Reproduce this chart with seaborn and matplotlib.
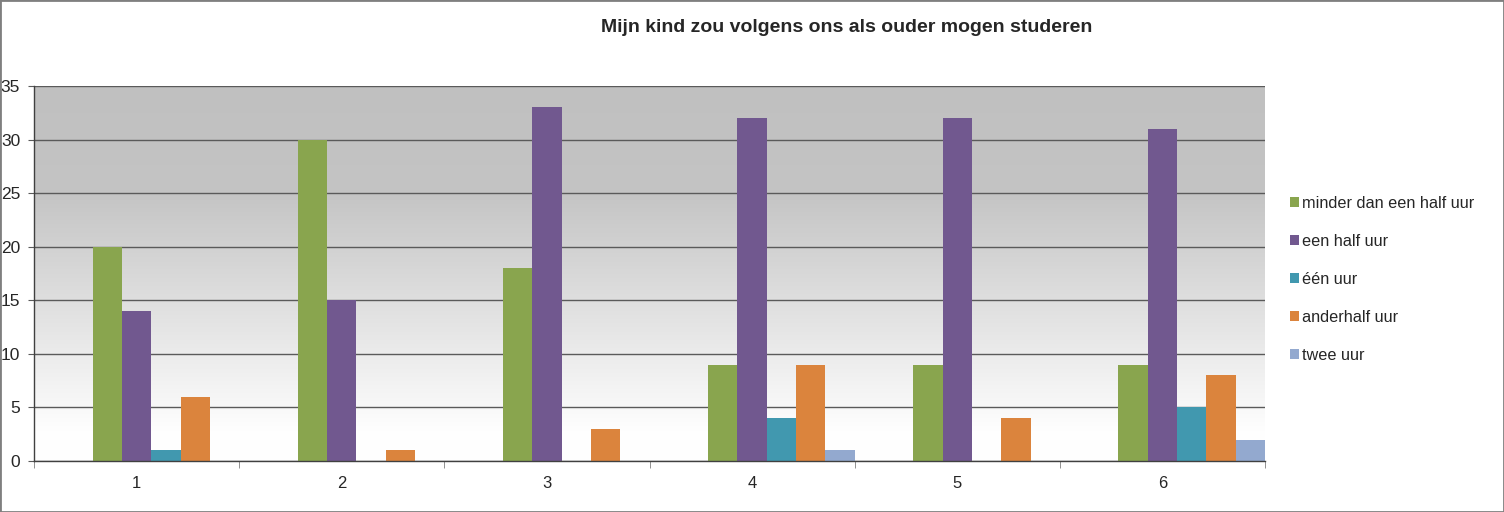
import numpy as np
import pandas as pd
import matplotlib
matplotlib.use("Agg")
import matplotlib.pyplot as plt
import seaborn as sns
from matplotlib.patches import Rectangle, Patch

categories = ["1", "2", "3", "4", "5", "6"]
series = ["minder dan een half uur", "een half uur", "één uur", "anderhalf uur", "twee uur"]
minder_dan_half = [20, 30, 18, 9, 9, 9]
een_half = [14, 15, 33, 32, 32, 31]
een_uur = [1, 0, 0, 4, 0, 5]
anderhalf = [6, 1, 3, 9, 4, 8]
twee_uur = [0, 0, 0, 1, 0, 2]
# two empty series in the original chart take the first slots of each group
empty_series = ["_leeg1", "_leeg2"]

colors = ["#89A54E", "#71588F", "#4198AF", "#DB843D", "#93A9CF"]

rows = []
for name, vals in zip(series, [minder_dan_half, een_half, een_uur, anderhalf, twee_uur]):
    for c, v in zip(categories, vals):
        rows.append({"cat": c, "serie": name, "aantal": v})
for name in empty_series:
    for c in categories:
        rows.append({"cat": c, "serie": name, "aantal": 0})
df = pd.DataFrame(rows)

sns.set_style("white")
plt.rcParams["font.family"] = ["Liberation Sans", "DejaVu Sans"]

fig = plt.figure(figsize=(15.04, 5.12), dpi=100)
ax = fig.add_axes([34 / 1504, 1 - 461 / 512, (1265 - 34) / 1504, (461 - 86) / 512])

# gradient background of the plot area
grad = np.linspace(0, 1, 256).reshape(-1, 1)
cmap = matplotlib.colors.LinearSegmentedColormap.from_list(
    "bg", [(0, "#FFFFFF"), (0.08, "#FEFEFE"), (0.72, "#C4C4C4"), (1, "#C0C0C0")])
ax.imshow(grad, cmap=cmap, aspect="auto", extent=[0, 1, 0, 1], transform=ax.transAxes,
          origin="lower", zorder=0)

palette = dict(zip(empty_series + series, ["#FFFFFF", "#FFFFFF"] + colors))
sns.barplot(data=df, x="cat", y="aantal", hue="serie", order=categories,
            hue_order=empty_series + series, palette=palette, width=1.0, gap=0,
            linewidth=0, saturation=1, legend=False, ax=ax, zorder=3)

ax.set_xlim(-0.5, 5.5)
ax.set_ylim(0, 35)
ax.set_yticks(range(0, 36, 5))
ax.yaxis.grid(True, color="#5A5A5A", linewidth=1, zorder=1)
ax.set_axisbelow(True)
ax.set_xlabel("")
ax.set_ylabel("")
ax.set_xticks(range(6))
ax.set_xticklabels(categories)
ax.set_xticks(np.arange(-0.5, 6, 1), minor=True)
ax.tick_params(axis="x", which="major", length=0, pad=11, labelsize=12)
ax.tick_params(axis="x", which="minor", length=5, color="#7F7F7F", direction="out", bottom=True)
ax.tick_params(axis="y", length=4, color="#5A5A5A", direction="out", left=True, labelsize=12.5, pad=6)
for s in ["top", "right"]:
    ax.spines[s].set_visible(False)
ax.spines["left"].set_color("#404040")
ax.spines["bottom"].set_color("#404040")
for s in ["left", "bottom"]:
    ax.spines[s].set_linewidth(1)
    ax.spines[s].set_zorder(4)

handles = [Patch(facecolor=c, edgecolor="none") for c in colors]
fig.legend(handles, series, loc="upper left", bbox_to_anchor=(1275 / 1504, 1 - 181 / 512),
           frameon=False, fontsize=11.7, handlelength=0.55, handleheight=0.55,
           handletextpad=0.2, labelspacing=1.42)

fig.text(847 / 1504, 1 - 28 / 512, "Mijn kind zou volgens ons als ouder mogen studeren",
         ha="center", va="center", fontsize=14, fontweight="bold")

fig.patches.append(Rectangle((0, 0), 1, 1, transform=fig.transFigure, fill=False,
                             edgecolor="#7F7F7F", linewidth=2))

fig.savefig("out.png", dpi=100)
